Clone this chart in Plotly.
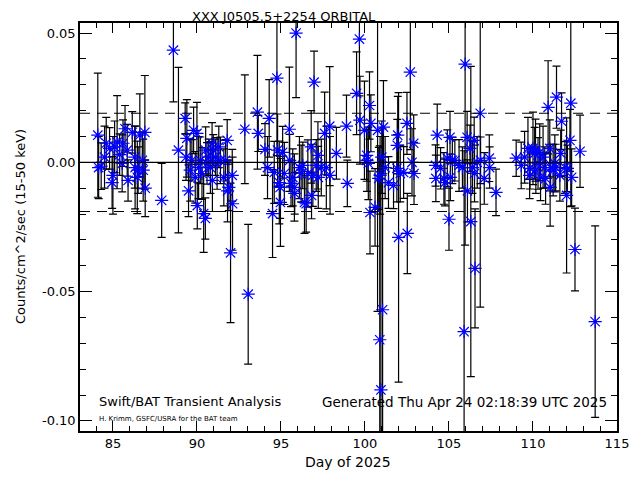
import plotly.graph_objects as go

# ---------------- data ----------------
day = [
    # cluster ~84-88
    84.1, 84.15, 84.3, 84.5, 84.6, 84.8, 84.95, 85.0, 85.1, 85.25, 85.4, 85.55, 85.6,
    85.72, 85.85, 85.9, 86.15, 86.3, 86.32, 86.45, 86.5, 86.6, 86.75, 86.8, 86.9, 86.92,
    87.9, 88.6,
    # cluster ~89-93
    88.9, 89.3, 89.35, 89.4, 89.5, 89.6, 89.7, 89.8, 89.9, 90.0, 90.02, 90.1, 90.2, 90.3,
    90.4, 90.5, 90.52, 90.6, 90.7, 90.8, 90.9, 90.92, 90.97, 91.1, 91.2, 91.3, 91.4, 91.6,
    91.7, 91.8, 91.82, 91.9, 92.1, 92.12, 92.0, 92.85, 93.05,
    # cluster ~93.5-99
    93.6, 93.65, 94.05, 94.2, 94.3, 94.5, 94.6, 94.76, 94.8, 94.9, 94.95, 94.97, 95.1, 95.2,
    95.5, 95.52, 95.6, 95.7, 95.8, 95.82, 95.9, 96.1, 96.2, 96.3, 96.4, 96.5, 96.6, 96.8,
    96.82, 96.9, 96.97, 97.1, 97.2, 97.22, 97.4, 97.6, 97.7, 97.9, 97.92, 98.3, 98.9, 98.95,
    # cluster ~99.5-103
    99.5, 99.67, 99.7, 99.97, 100.1, 100.12, 100.2, 100.27, 100.3, 100.35, 100.6, 100.75,
    100.82, 100.9, 100.88, 100.95, 101.05, 101.0, 101.1, 101.2, 101.4, 101.7, 101.9, 101.92,
    101.95, 102.0, 102.1, 102.3, 102.5, 102.52, 102.7, 102.8, 102.9, 102.92,
    # cluster ~104-108
    104.2, 104.22, 104.3, 104.5, 104.7, 104.76, 104.9, 105.0, 105.06, 105.08, 105.2, 105.35,
    105.6, 105.8, 105.9, 105.96, 106.08, 106.1, 106.25, 106.3, 106.4, 106.5, 106.52, 106.55,
    106.68, 106.86, 106.88, 107.1, 107.4, 107.42, 107.8,
    # cluster ~109-114
    109.0, 109.3, 109.5, 109.7, 109.8, 109.82, 110.0, 110.1, 110.15, 110.17, 110.3, 110.4,
    110.45, 110.6, 110.7, 110.75, 110.9, 111.0, 111.02, 111.05, 111.2, 111.3, 111.35, 111.4,
    111.6, 111.65, 111.7, 111.9, 112.0, 112.05, 112.2, 112.25, 112.3, 112.5, 112.8, 113.7,
]
rate = [
    0.0105, -0.002, -0.0015, 0.002, 0.0074, 0.0054, -0.0078, -0.005, 0.006, 0.0078, 0.003, -0.0004, 0.0074,
    0.013, 0.0047, -0.007, 0.0116, 0.002, -0.002, -0.0058, -0.003, 0.0105, 0.0008, -0.003, 0.0116, -0.010,
    -0.0147, 0.0434,
    0.0047, 0.017, 0.002, 0.0093, -0.011, -0.003, 0.0008, 0.0124, -0.0058, 0.0112, -0.0167, -0.002, 0.0008, -0.0043,
    -0.0198, -0.0217, 0.0047, -0.0004, 0.002, -0.002, 0.0074, -0.007, 0.0047, 0.002, -0.0004, 0.006, 0.0008, -0.0058,
    0.0008, 0.0085, -0.011, -0.0097, -0.005, -0.016, -0.035, 0.0128, -0.051,
    0.0194, 0.0112, 0.005, -0.002, 0.017, -0.0198, -0.0039, 0.0326, 0.0047, -0.0078, -0.0097, -0.0155, 0.0039, -0.0043,
    0.0128, 0.0008, -0.0081, -0.0058, -0.0097, -0.012, 0.050, -0.002, -0.0043, -0.0012, -0.0155, -0.016, -0.0043, 0.006,
    -0.0128, -0.005, 0.031, -0.0012, 0.0027, -0.0058, -0.002, 0.0112, -0.002, 0.014, -0.005, 0.0035, 0.014, -0.0081,
    0.0267, 0.0477, 0.0163, 0.0124, 0.0027, 0.0008, -0.0004, 0.022, -0.0194, 0.0151, -0.0174, 0.0124,
    -0.0062, -0.005, -0.0686, -0.088, -0.057, 0.002, 0.0136, -0.002, -0.0078, -0.0089, -0.0023, 0.0066,
    0.0105, -0.029, -0.0043, -0.0039, 0.0151, -0.0275, 0.0349, 0.0, 0.0074, -0.0043,
    -0.0012, -0.0062, 0.0105, -0.0023, -0.0062, -0.0078, 0.0016, -0.022, 0.0097, -0.0058, 0.0008, 0.0008,
    -0.0012, -0.002, -0.0655, 0.038, 0.0097, -0.011, 0.0054, -0.0229, -0.002, 0.0085, -0.0043, -0.041,
    0.0, 0.019, 0.0008, -0.0062, 0.0016, -0.002, -0.0116,
    0.0016, -0.0012, 0.002, 0.0054, -0.005, -0.0023, 0.0054, 0.0035, 0.0047, -0.003, -0.0004, 0.0039,
    -0.0058, 0.002, -0.002, -0.0062, 0.0213, 0.0054, -0.0097, -0.002, -0.003, -0.0004, -0.002, 0.0252,
    -0.005, 0.0035, 0.0159, -0.002, -0.0128, -0.0023, 0.0085, 0.0229, -0.0058, -0.0337, 0.0043, -0.0616,
]
err = [
    0.024, 0.012, 0.009, 0.012, 0.010, 0.008, 0.010, 0.015, 0.010, 0.018, 0.008, 0.011, 0.009,
    0.009, 0.010, 0.008, 0.008, 0.012, 0.016, 0.014, 0.009, 0.016, 0.011, 0.012, 0.022, 0.011,
    0.0143, 0.020,
    0.032, 0.006, 0.009, 0.015, 0.010, 0.012, 0.008, 0.009, 0.010, 0.012, 0.009, 0.012, 0.009, 0.010,
    0.015, 0.008, 0.009, 0.008, 0.007, 0.010, 0.008, 0.012, 0.006, 0.007, 0.010, 0.008, 0.009, 0.011,
    0.008, 0.008, 0.012, 0.009, 0.010, 0.018, 0.027, 0.021, 0.027,
    0.022, 0.007, 0.010, 0.012, 0.015, 0.017, 0.012, 0.030, 0.014, 0.016, 0.012, 0.017, 0.010, 0.012,
    0.024, 0.010, 0.009, 0.011, 0.013, 0.008, 0.025, 0.012, 0.011, 0.009, 0.012, 0.011, 0.013, 0.014,
    0.009, 0.012, 0.012, 0.010, 0.013, 0.012, 0.011, 0.016, 0.016, 0.023, 0.015, 0.010, 0.012, 0.009,
    0.016, 0.022, 0.017, 0.019, 0.010, 0.012, 0.014, 0.013, 0.016, 0.011, 0.015, 0.070,
    0.012, 0.015, 0.075, 0.090, 0.070, 0.014, 0.018, 0.012, 0.010, 0.009, 0.013, 0.010,
    0.015, 0.056, 0.011, 0.010, 0.012, 0.0155, 0.030, 0.013, 0.011, 0.012,
    0.008, 0.009, 0.012, 0.008, 0.010, 0.009, 0.011, 0.012, 0.010, 0.009, 0.009, 0.008,
    0.010, 0.008, 0.070, 0.070, 0.010, 0.012, 0.009, 0.060, 0.010, 0.009, 0.011, 0.023,
    0.010, 0.075, 0.009, 0.010, 0.009, 0.008, 0.009,
    0.007, 0.009, 0.010, 0.012, 0.009, 0.008, 0.014, 0.010, 0.012, 0.009, 0.010, 0.011,
    0.009, 0.012, 0.008, 0.010, 0.018, 0.011, 0.015, 0.009, 0.010, 0.011, 0.009, 0.012,
    0.010, 0.009, 0.011, 0.010, 0.030, 0.009, 0.012, 0.040, 0.011, 0.016, 0.014, 0.037,
]

x_ticks = [85, 90, 95, 100, 105, 110, 115]
y_ticks = [0.05, 0.0, -0.05, -0.10]
y_tick_labels = ["0.05", "0.00", "-0.05", "-0.10"]
threshold = 0.019

title = "XXX J0505.5+2254 ORBITAL"
FONT = "DejaVu Sans"

fig = go.Figure()
fig.add_trace(go.Scatter(
    x=day, y=rate, mode="markers",
    marker=dict(symbol="asterisk", size=11, color="blue",
                line=dict(color="blue", width=1.2)),
    error_y=dict(type="data", array=err, visible=True, color="black",
                 thickness=1.2, width=4),
    showlegend=False,
))

fig.add_hline(y=0, line=dict(color="black", width=1.2))
fig.add_hline(y=threshold, line=dict(color="black", width=1.2, dash="10px,7px"))
fig.add_hline(y=-threshold, line=dict(color="black", width=1.2, dash="10px,7px"))

axis_common = dict(
    showgrid=False, zeroline=False, showline=True, linecolor="black", linewidth=1.5,
    mirror="ticks", ticks="inside", tickcolor="black", tickwidth=1,
    tickfont=dict(family=FONT, size=13, color="black"),
)
fig.update_xaxes(range=[83.04, 115], tickvals=x_ticks, ticklen=10,
                 minor=dict(dtick=1, ticklen=5, ticks="inside", tickcolor="black"),
                 **axis_common)
fig.update_yaxes(range=[-0.1039, 0.0539], tickvals=y_ticks, ticktext=y_tick_labels,
                 ticklen=12,
                 minor=dict(dtick=0.01, ticklen=6, ticks="inside", tickcolor="black"),
                 **axis_common)

fig.update_layout(
    width=632, height=472,
    margin=dict(l=72, r=23, t=15, b=49),
    paper_bgcolor="white", plot_bgcolor="white",
    font=dict(family=FONT, color="black"),
    annotations=[
        dict(text=title, xref="paper", yref="paper", x=0.38, y=1.0368,
             xanchor="center", yanchor="top", borderpad=0, showarrow=False,
             font=dict(size=13, family=FONT)),
        dict(text="Day of 2025", xref="paper", yref="paper", x=0.499, y=-0.076,
             xanchor="center", yanchor="middle", showarrow=False,
             font=dict(size=14, family=FONT)),
        dict(text="Counts/cm^2/sec (15-50 keV)", xref="paper", yref="paper",
             x=-0.1117, y=0.5, textangle=-90, xanchor="center", yanchor="middle",
             showarrow=False, font=dict(size=13, family=FONT)),
        dict(text="Swift/BAT Transient Analysis", xref="paper", yref="paper",
             x=0.0317, y=0.0711, xanchor="left", yanchor="middle", showarrow=False,
             font=dict(size=13, family=FONT)),
        dict(text="H. Krimm, GSFC/USRA for the BAT team", xref="paper", yref="paper",
             x=0.0317, y=0.0294, xanchor="left", yanchor="middle", showarrow=False,
             font=dict(size=7, family=FONT)),
        dict(text="Generated Thu Apr 24 02:18:39 UTC 2025", xref="paper", yref="paper",
             x=0.447, y=0.0711, xanchor="left", yanchor="middle", showarrow=False,
             font=dict(size=13.5, family=FONT)),
    ],
)

fig.write_html("out.html")
